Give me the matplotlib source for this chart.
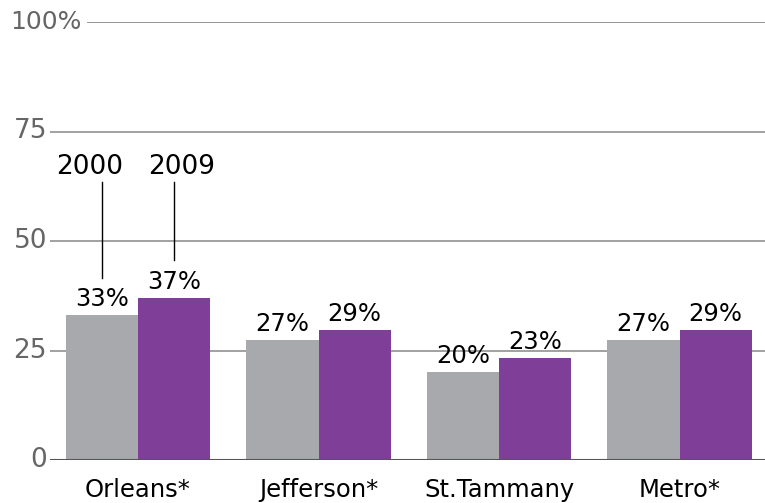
import numpy as np
import matplotlib
matplotlib.use('Agg')
import matplotlib.pyplot as plt

# data
counties = ['Orleans*', 'Jefferson*', 'St.Tammany', 'Metro*']
vals_2000 = [33, 27.4, 20, 27.4]
vals_2009 = [37, 29.6, 23.2, 29.6]
labels_2000 = ['33%', '27%', '20%', '27%']
labels_2009 = ['37%', '29%', '23%', '29%']
yticks = [0, 25, 50, 75, 100]
ytick_labels = ['0', '25', '50', '75', '100%']

gray = '#a7a9ac'
purple = '#7f3f98'
W, H = 765, 503

fig = plt.figure(figsize=(7.65, 5.03), dpi=100)
ax = fig.add_axes([50/W, (H-460)/H, 1-50/W, (460-22)/H])

x = np.arange(len(counties))
bw = 0.4
ax.bar(x - bw/2, vals_2000, bw, color=gray, zorder=3)
ax.bar(x + bw/2, vals_2009, bw, color=purple, zorder=3)

ax.set_xlim((50-138)/180.5, (765-138)/180.5)
ax.set_ylim(0, 100)
ax.axis('off')

# gridlines
for t in yticks:
    if t == 100:
        ax.axhline(t, xmin=38/715, xmax=1, color='#8c8c8c', lw=1.3, zorder=1)
    elif t == 0:
        ax.axhline(t, color='#555555', lw=1.5, zorder=4)
    else:
        ax.axhline(t, color='#9a9a9a', lw=1.3, zorder=1)

for t, lab in zip(yticks, ytick_labels):
    py = 460 - t*4.38
    if t == 100:
        fig.text(10/W, (H-py)/H, lab, ha='left', va='center', fontsize=18, color='#666666')
    else:
        fig.text(47/W, (H-py)/H, lab, ha='right', va='center', fontsize=19, color='#666666')

# value labels
for i in range(len(counties)):
    ax.annotate(labels_2000[i], (x[i]-bw/2, vals_2000[i]), xytext=(0, 3), textcoords='offset points',
                ha='center', va='bottom', fontsize=17.5, color='black')
    ax.annotate(labels_2009[i], (x[i]+bw/2, vals_2009[i]), xytext=(0, 3), textcoords='offset points',
                ha='center', va='bottom', fontsize=17.5, color='black')
    ax.text(x[i], -9.5, counties[i], ha='center', va='bottom', fontsize=17.5, color='black', clip_on=False)

# year callouts
ax.plot([-bw/2, -bw/2], [41.6, 63.5], color='black', lw=1, zorder=5)
ax.plot([bw/2, bw/2], [45.7, 63.5], color='black', lw=1, zorder=5)
ax.text(-0.266, 64.0, '2000', ha='center', va='bottom', fontsize=19, color='black')
ax.text(0.241, 64.0, '2009', ha='center', va='bottom', fontsize=19, color='black')

fig.savefig('out.png', dpi=100)
